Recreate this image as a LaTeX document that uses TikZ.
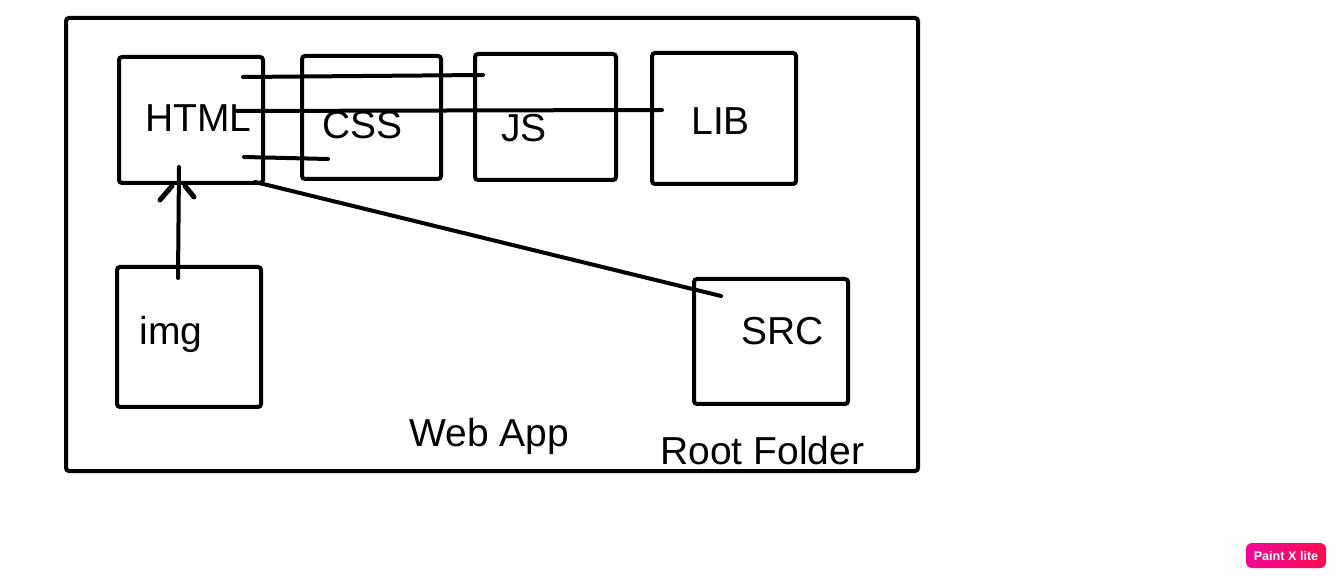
\documentclass[tikz,border=0pt]{standalone}
\usepackage{fontspec}
\setmainfont{Liberation Sans}
\begin{document}
\begin{tikzpicture}[x=0.5pt,y=-0.5pt,
  box/.style={draw=black,line width=2pt,rounded corners=1.5pt,inner sep=0pt,minimum width=#1},
  lbl/.style={anchor=base west,inner sep=0pt,font=\fontsize{19.5pt}{23pt}\selectfont},
  wire/.style={draw=black,line width=2pt,line cap=round}]
\useasboundingbox (0,0) rectangle (1336,576);
\fill[white] (0,0) rectangle (1336,576);
% boxes
\node[box=426pt,minimum height=226.5pt] (outer) at (492,244.5) {};
\node[box=72pt,minimum height=63pt] (html) at (191,120) {};
\node[box=69.5pt,minimum height=61.5pt] (css) at (371.5,117.5) {};
\node[box=70.5pt,minimum height=63pt] (js) at (545.5,117) {};
\node[box=72pt,minimum height=65.5pt] (lib) at (724,118.5) {};
\node[box=72pt,minimum height=70pt] (img) at (189,337) {};
\node[box=77pt,minimum height=62.5pt] (src) at (771,341.5) {};
% labels
\node[lbl] (thtml) at (145,132) {HTML};
\node[lbl] (tcss) at (322,139) {CSS};
\node[lbl] (tjs) at (501,142) {JS};
\node[lbl] (tlib) at (691,135) {LIB};
\node[lbl] (timg) at (139,345) {img};
\node[lbl] (tsrc) at (741,345) {SRC};
\node[lbl] (tweb) at (409,446) {Web App};
\node[lbl] (troot) at (660,464) {Root Folder};
% connector end points
\coordinate (a1) at (243,77);  \coordinate (a2) at (483,75);
\coordinate (b1) at (237,111); \coordinate (b2) at (662,110);
\coordinate (c1) at (244,157); \coordinate (c2) at (328,159);
\coordinate (d1) at (255,182); \coordinate (d2) at (721,296);
\coordinate (e1) at (178,278); \coordinate (e2) at (179,167);
\coordinate (hl1) at (160,200); \coordinate (hl2) at (172,186);
\coordinate (hr1) at (185,186); \coordinate (hr2) at (194,197);
% connectors
\draw[wire] (a1) -- (a2);
\draw[wire] (b1) -- (b2);
\draw[wire] (c1) -- (c2);
\draw[wire] (d1) -- (d2);
\draw[wire] (e1) -- (e2);
\draw[wire,line width=2.5pt] (hl1) -- (hl2);
\draw[wire,line width=2.5pt] (hr1) -- (hr2);
% badge
\shade[rounded corners=3pt,left color={rgb,255:red,240;green,8;blue,150},right color={rgb,255:red,255;green,10;blue,80}] (1246,543) rectangle (1326,568);
\node[inner sep=0pt,text=white,font=\bfseries\fontsize{6.3pt}{7pt}\selectfont] (badge) at (1286,555.5) {Paint X lite};
\end{tikzpicture}
\end{document}
